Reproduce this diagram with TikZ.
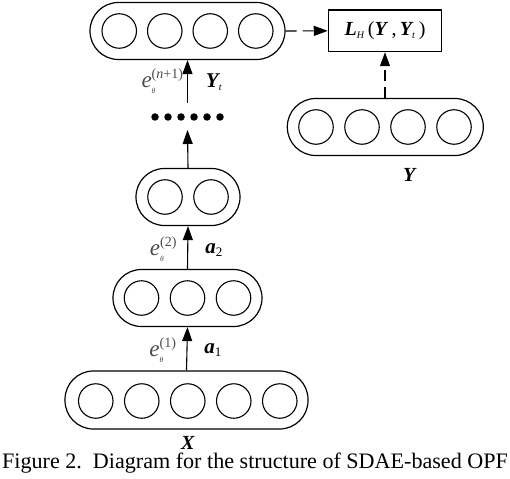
\documentclass[tikz,border=0pt]{standalone}
\usepackage{fontspec}
\setmainfont{Liberation Serif}
\usetikzlibrary{arrows.meta}
\newcommand{\bi}[1]{\textbf{\textit{#1}}}
\newcommand{\elab}[1]{$\mbox{\itshape e}^{\mbox{\fontsize{14}{14}\selectfont #1}}_{\mbox{\fontsize{7.5}{7.5}\selectfont\itshape θ}}$}
\newcommand{\bisub}[2]{$\mbox{\bfseries\itshape #1}_{\mbox{\fontsize{13}{13}\selectfont #2}}$}
\newcommand{\bisubs}[2]{$\mbox{\bfseries\itshape #1}_{\mbox{\fontsize{10}{10}\selectfont\itshape #2}}$}
\begin{document}
\begin{tikzpicture}[x=1pt,y=-1pt,
  capsule/.style={draw, line width=1.2pt, rounded corners=28.4pt, minimum height=57pt, inner sep=0pt},
  neuron/.style={draw, circle, line width=1.1pt, minimum size=34.5pt, inner sep=0pt},
  dotn/.style={fill, circle, minimum size=7.5pt, inner sep=0pt},
  arr/.style={-{Triangle[length=14pt,width=10pt]}, line width=1.1pt},
  darr/.style={arr, dash pattern=on 11pt off 6pt},
  lab/.style={font=\fontsize{21}{24}\selectfont, inner sep=0pt},
  elabst/.style={font=\fontsize{23}{26}\selectfont, inner sep=0pt, text=black!70}]
\useasboundingbox (0,0) rectangle (510,478);
% layers
\node[capsule, minimum width=195pt] (L4) at (187.5,31) {};
\foreach \i in {1,...,4} \node[neuron] (t\i) at ({187.5+(\i-2.5)*45.5},31) {};
\foreach \i in {1,...,6} \node[dotn] (d\i) at ({187.5+(\i-3.5)*13},117) {};
\node[capsule, minimum width=104pt] (L2) at (188,197) {};
\foreach \i in {1,2} \node[neuron] (b\i) at ({188+(\i-1.5)*46},197) {};
\node[capsule, minimum width=149pt] (L1) at (187.5,298) {};
\foreach \i in {1,...,3} \node[neuron] (c\i) at ({187.5+(\i-2)*46},298) {};
\node[capsule, minimum width=243pt, minimum height=58pt] (L0) at (186.5,400) {};
\foreach \i in {1,...,5} \node[neuron] (x\i) at ({187.75+(\i-3)*46},401) {};
\node[capsule, minimum width=196pt] (LY) at (385.3,127) {};
\foreach \i in {1,...,4} \node[neuron] (y\i) at ({385+(\i-2.5)*46},127) {};
\node[draw, line width=1.1pt, minimum width=113.4pt, minimum height=41.7pt, inner sep=0pt, font=\fontsize{20}{24}\selectfont] (loss) at (385,30.85)
  {\bisubs{L}{H}\,(\bi{Y}\,,\,\bisubs{Y}{t}\,)};
% connectors
\coordinate (dtop) at (187.5,130);
\coordinate (dbot) at (187.5,103);
\draw[arr] (L0.north) -- (L1.south);
\draw[arr] (L1.north) -- (L2.south);
\draw[arr] (L2.north) -- (dtop);
\draw[arr] (dbot) -- (L4.south);
\draw[darr] (L4.east) -- (loss.west);
\draw[darr] (LY.north -| loss.south) -- (loss.south);
% labels
\node[elabst] (e1) at (163,350) {\elab{(1)}};
\node[lab] (a1) at (213,350) {\bisub{a}{1}};
\node[elabst] (e2) at (163.5,249) {\elab{(2)}};
\node[lab] (a2) at (214,250) {\bisub{a}{2}};
\node[elabst] (en) at (162.5,81) {\elab{(\textit{n}+1)}};
\node[lab] (yt) at (214,82) {\bisubs{Y}{t}};
\node[lab, font=\fontsize{20}{24}\selectfont] (ylab) at (410,175) {\bi{Y}};
\node[lab, font=\fontsize{20}{24}\selectfont] (xlab) at (188,443) {\bi{X}};
\node[font=\fontsize{22.1}{26}\selectfont, inner sep=0pt, anchor=base] (cap) at (255,468) {Figure 2.\ \ Diagram for the structure of SDAE-based OPF};
\end{tikzpicture}
\end{document}
